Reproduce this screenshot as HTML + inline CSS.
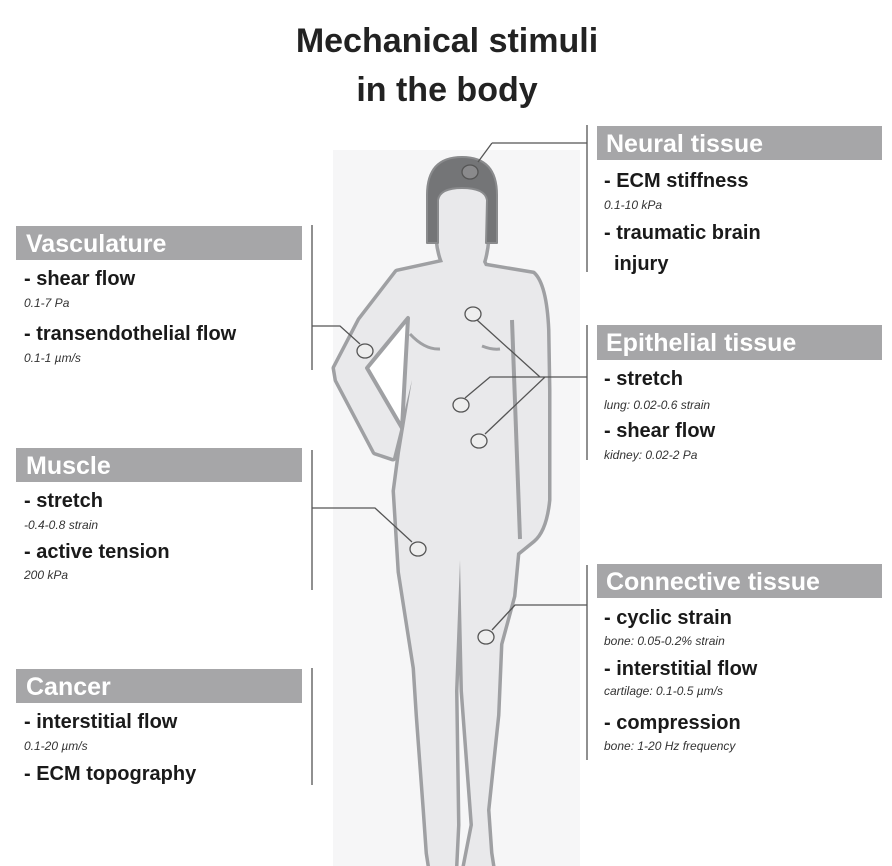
<!DOCTYPE html>
<html><head><meta charset="utf-8"><style>body{margin:0;background:#fff}svg{display:block}</style></head><body>
<svg width="892" height="866" viewBox="0 0 892 866" xmlns="http://www.w3.org/2000/svg" font-family="Liberation Sans, sans-serif">
<rect x="333" y="150" width="247" height="716" fill="#f6f6f7"/>
<defs>
<path id="b" d="M443,262 Q439,252 438,240 L438,200 Q440,186 462,186 Q485,186 487,200 L487,240 Q486,252 483,262 L485,266 L533,274 Q545,285 547,330 L548,390 L548,500 Q545,530 533,540 L517,553 L513,596 L500,644 L497,715 L487,810 L490,853 L492,866 L465,866 L473,825 L463,691 L460,560 L455,691 L457,825 L455,866 L430,866 L428,853 L425,810 L418,715 L415,668 L400,572 L395,491 L400,453 L412,380 L400,430 L393,458 L375,452 L337,380 L335,368 L360,320 L397,272 Z"/>
</defs>
<use href="#b" stroke="#9fa0a3" stroke-width="7" fill="none" stroke-linejoin="round"/>
<use href="#b" fill="#e9e9eb"/>
<path d="M367,368 L408,318 L402,428 Z" fill="#fff" stroke="#9fa0a3" stroke-width="4" stroke-linejoin="round"/>
<path d="M512,320 L520,539" stroke="#9fa0a3" stroke-width="4" fill="none"/>
<path d="M410,334 Q425,350 440,349 M482,346 Q492,350 500,349" stroke="#9fa0a3" stroke-width="3" fill="none"/>
<path d="M427,243 L427,195 Q427,157 462,157 Q497,157 497,195 L497,243 L486,243 L487,200 Q485,188 462,188 Q440,188 438,200 L438,243 Z" fill="#747577" stroke="#8a8b8d" stroke-width="2" stroke-linejoin="round"/>
<g stroke="#555" stroke-width="1.3" fill="none">
<path d="M587,125 V272 M492,143 H587 M478,162 L492,143"/>
<path d="M312,225 V370 M312,326 H340 L360,344"/>
<path d="M587,325 V460 M540,377 H587 M477,320 L540,377 M465,398 L490,377 H540 M485,434 L545,377"/>
<path d="M312,450 V590 M312,508 H375 L412,542"/>
<path d="M587,565 V760 M587,605 H515 L492,630"/>
<path d="M312,668 V785"/>
</g>
<g stroke="#555" stroke-width="1.3" fill="#eee">
<ellipse cx="470" cy="172" rx="8" ry="7" fill="#8a8a8c"/>
<ellipse cx="365" cy="351" rx="8" ry="7"/>
<ellipse cx="473" cy="314" rx="8" ry="7"/>
<ellipse cx="461" cy="405" rx="8" ry="7"/>
<ellipse cx="479" cy="441" rx="8" ry="7"/>
<ellipse cx="418" cy="549" rx="8" ry="7"/>
<ellipse cx="486" cy="637" rx="8" ry="7"/>
</g>
<g font-weight="bold" font-size="34" fill="#222" text-anchor="middle">
<text x="447" y="52">Mechanical stimuli</text>
<text x="447" y="101">in the body</text>
</g>
<g fill="#a6a6a8">
<rect x="16" y="226" width="286" height="34"/>
<rect x="597" y="126" width="285" height="34"/>
<rect x="597" y="325" width="285" height="35"/>
<rect x="16" y="448" width="286" height="34"/>
<rect x="597" y="564" width="285" height="34"/>
<rect x="16" y="669" width="286" height="34"/>
</g>
<g fill="#fff" font-weight="bold" font-size="25">
<text x="26" y="252">Vasculature</text>
<text x="606" y="152">Neural tissue</text>
<text x="606" y="351">Epithelial tissue</text>
<text x="26" y="474">Muscle</text>
<text x="606" y="590">Connective tissue</text>
<text x="26" y="695">Cancer</text>
</g>
<g fill="#1a1a1a" font-weight="bold" font-size="20">
<text x="24" y="285">- shear flow</text>
<text x="24" y="340">- transendothelial flow</text>
<text x="604" y="187">- ECM stiffness</text>
<text x="604" y="239">- traumatic brain</text>
<text x="614" y="270">injury</text>
<text x="604" y="385">- stretch</text>
<text x="604" y="437">- shear flow</text>
<text x="24" y="507">- stretch</text>
<text x="24" y="558">- active tension</text>
<text x="604" y="624">- cyclic strain</text>
<text x="604" y="675">- interstitial flow</text>
<text x="604" y="729">- compression</text>
<text x="24" y="728">- interstitial flow</text>
<text x="24" y="780">- ECM topography</text>
</g>
<g fill="#333" font-style="italic" font-size="12">
<text x="24" y="307">0.1-7 Pa</text>
<text x="24" y="362">0.1-1 µm/s</text>
<text x="604" y="209">0.1-10 kPa</text>
<text x="604" y="409">lung: 0.02-0.6 strain</text>
<text x="604" y="459">kidney:  0.02-2 Pa</text>
<text x="24" y="529">-0.4-0.8 strain</text>
<text x="24" y="579">200 kPa</text>
<text x="604" y="645">bone: 0.05-0.2% strain</text>
<text x="604" y="695">cartilage: 0.1-0.5 µm/s</text>
<text x="604" y="750">bone: 1-20 Hz frequency</text>
<text x="24" y="750">0.1-20 µm/s</text>
</g>
</svg>
</body></html>
